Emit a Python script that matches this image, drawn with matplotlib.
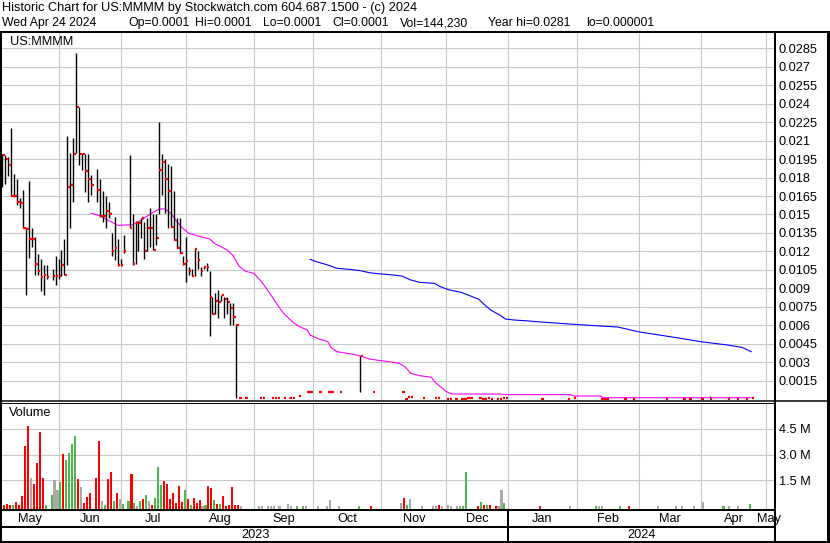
import numpy as np
import matplotlib
matplotlib.use("Agg")
import matplotlib.pyplot as plt
from matplotlib.lines import Line2D

plt.rcParams['font.family'] = ['Liberation Sans', 'DejaVu Sans']

# ---------------- data ----------------
START = '2023-05-05'

# active trading period: daily high / low / close
bar_dates = ['2023-05-05', '2023-05-08', '2023-05-09', '2023-05-10', '2023-05-11', '2023-05-12',
             '2023-05-15', '2023-05-16', '2023-05-17', '2023-05-18', '2023-05-19',
             '2023-05-22', '2023-05-23', '2023-05-24', '2023-05-25', '2023-05-26',
             '2023-05-30', '2023-05-31', '2023-06-01', '2023-06-02',
             '2023-06-05', '2023-06-06', '2023-06-07', '2023-06-08', '2023-06-09',
             '2023-06-12', '2023-06-13', '2023-06-14', '2023-06-15', '2023-06-16',
             '2023-06-20', '2023-06-21', '2023-06-22', '2023-06-23',
             '2023-06-26', '2023-06-27', '2023-06-28', '2023-06-29', '2023-06-30',
             '2023-07-03', '2023-07-05', '2023-07-06', '2023-07-07',
             '2023-07-10', '2023-07-11', '2023-07-12', '2023-07-13', '2023-07-14',
             '2023-07-17', '2023-07-18', '2023-07-19', '2023-07-20', '2023-07-21',
             '2023-07-24', '2023-07-25', '2023-07-26', '2023-07-27', '2023-07-28',
             '2023-07-31', '2023-08-01', '2023-08-02', '2023-08-03', '2023-08-04',
             '2023-08-07', '2023-08-08', '2023-08-09', '2023-08-10', '2023-08-11',
             '2023-08-14', '2023-08-15', '2023-08-16', '2023-08-17', '2023-08-18',
             '2023-08-21', '2023-08-22', '2023-08-23', '2023-08-24']
bar_high = [0.0199, 0.0198, 0.0197, 0.0220, 0.0183, 0.0179,
            0.0163, 0.0170, 0.0139, 0.0177, 0.0139,
            0.0132, 0.0118, 0.0114, 0.0109, 0.0109,
            0.0106, 0.0116, 0.0114, 0.0121,
            0.0130, 0.0214, 0.0200, 0.0212, 0.0281,
            0.0237, 0.0200, 0.0199, 0.0199, 0.0182,
            0.0187, 0.0179, 0.0169, 0.0165,
            0.0160, 0.0135, 0.0148, 0.0130, 0.0114,
            0.0133, 0.0198, 0.0150, 0.0145,
            0.0145, 0.0147, 0.0144, 0.0147, 0.0155,
            0.0150, 0.0150, 0.0225, 0.0199, 0.0195,
            0.0191, 0.0189, 0.0169, 0.0147, 0.0147,
            0.0116, 0.0132, 0.0107, 0.0106, 0.0122,
            0.0120, 0.0107, 0.0108, 0.0111, 0.0104,
            0.0083, 0.0086, 0.0089, 0.0085, 0.0083,
            0.0083, 0.0078, 0.0078, 0.0060]
bar_low = [0.0172, 0.0175, 0.0181, 0.0165, 0.0164, 0.0158,
           0.0155, 0.0139, 0.0085, 0.0115, 0.0124,
           0.0101, 0.0101, 0.0088, 0.0085, 0.0098,
           0.0097, 0.0093, 0.0098, 0.0100,
           0.0101, 0.0109, 0.0139, 0.0160, 0.0200,
           0.0190, 0.0186, 0.0168, 0.0160, 0.0166,
           0.0160, 0.0148, 0.0144, 0.0139,
           0.0147, 0.0116, 0.0113, 0.0108, 0.0108,
           0.0119, 0.0139, 0.0109, 0.0110,
           0.0120, 0.0131, 0.0114, 0.0120, 0.0124,
           0.0121, 0.0125, 0.0150, 0.0166, 0.0151,
           0.0139, 0.0140, 0.0129, 0.0123, 0.0119,
           0.0109, 0.0095, 0.0101, 0.0100, 0.0100,
           0.0106, 0.0100, 0.0106, 0.0104, 0.0051,
           0.0069, 0.0069, 0.0066, 0.0080, 0.0066,
           0.0069, 0.0060, 0.0060, 0.0001]
bar_close = [0.0198, 0.0195, 0.0190, 0.0165, 0.0165, 0.0160,
             0.0159, 0.0139, 0.0138, 0.0130, 0.0130,
             0.0110, 0.0104, 0.0099, 0.0101, 0.0099,
             0.0100, 0.0100, 0.0100, 0.0109,
             0.0101, 0.0172, 0.0174, 0.0199, 0.0237,
             0.0199, 0.0199, 0.0185, 0.0179, 0.0174,
             0.0170, 0.0149, 0.0149, 0.0153,
             0.0150, 0.0120, 0.0123, 0.0109, 0.0109,
             0.0120, 0.0139, 0.0110, 0.0143,
             0.0143, 0.0147, 0.0120, 0.0139, 0.0139,
             0.0121, 0.0131, 0.0186, 0.0193, 0.0179,
             0.0169, 0.0140, 0.0129, 0.0123, 0.0119,
             0.0110, 0.0112, 0.0104, 0.0100, 0.0122,
             0.0113, 0.0104, 0.0107, 0.0107, 0.0083,
             0.0069, 0.0080, 0.0079, 0.0085, 0.0081,
             0.0079, 0.0074, 0.0067, 0.0060]

# thin trading after the collapse
late_dates = ['2023-08-25', '2023-08-29', '2023-09-05', '2023-09-06', '2023-09-11', '2023-09-12',
              '2023-09-13', '2023-09-15', '2023-09-19', '2023-09-20', '2023-09-22', '2023-09-27',
              '2023-09-28', '2023-10-03', '2023-10-06', '2023-10-09', '2023-10-12', '2023-10-23',
              '2023-10-27', '2023-11-10', '2023-11-13', '2023-11-14', '2023-11-15', '2023-11-21',
              '2023-11-27', '2023-11-28', '2023-12-01', '2023-12-04', '2023-12-06', '2023-12-08',
              '2023-12-11', '2023-12-12', '2023-12-13', '2023-12-18', '2023-12-19', '2023-12-20',
              '2023-12-21', '2023-12-22', '2023-12-26', '2023-12-27', '2023-12-28', '2023-12-29',
              '2024-01-16', '2024-01-29', '2024-01-31', '2024-02-13', '2024-02-14', '2024-02-15',
              '2024-02-23', '2024-02-28', '2024-03-14', '2024-03-22', '2024-03-26', '2024-04-01',
              '2024-04-04', '2024-04-12', '2024-04-17', '2024-04-22', '2024-04-24']
late_close = [0.0001, 0.0001, 0.0001, 0.0001, 0.0001, 0.0001,
              0.0001, 0.0001, 0.0001, 0.0001, 0.0003, 0.0006,
              0.0006, 0.0006, 0.0006, 0.0006, 0.0006, 0.0035,
              0.0006, 0.0006, 0.00002, 0.0002, 0.0002, 0.0001,
              0.0001, 0.0001, 0.00005, 0.00005, 0.00005, 0.00005,
              0.00005, 0.0001, 0.0001, 0.0001, 0.00005, 0.00005,
              0.0001, 0.00005, 0.00005, 0.00005, 0.0001, 0.0001,
              0.00002, 0.00002, 0.0001, 0.00002, 0.00002, 0.00002,
              0.00002, 0.00002, 0.00002, 0.00002, 0.00002, 0.00002,
              0.00002, 0.00002, 0.00002, 0.00002, 0.0001]
late_high = [0.0001, 0.0001, 0.0001, 0.0001, 0.0001, 0.0001,
             0.0001, 0.0001, 0.0002, 0.0001, 0.0003, 0.0006,
             0.0006, 0.0006, 0.0006, 0.0006, 0.0006, 0.0035,
             0.0006, 0.0006, 0.00002, 0.0003, 0.0002, 0.0001,
             0.0001, 0.0001, 0.00005, 0.00005, 0.00005, 0.00005,
             0.00005, 0.0001, 0.0001, 0.0002, 0.00005, 0.00005,
             0.0001, 0.00005, 0.00005, 0.00005, 0.0001, 0.0001,
             0.00002, 0.00002, 0.0001, 0.00002, 0.00002, 0.00002,
             0.00002, 0.00002, 0.00002, 0.00002, 0.00002, 0.00002,
             0.0003, 0.00002, 0.00002, 0.00002, 0.0001]
late_low = [0.0001, 0.0001, 0.0001, 0.0001, 0.0001, 0.0001,
            0.0001, 0.0001, 0.0001, 0.0001, 0.0003, 0.0006,
            0.0006, 0.0006, 0.0006, 0.0006, 0.0006, 0.0006,
            0.0006, 0.0006, 0.00002, 0.0002, 0.0002, 0.0001,
            0.0001, 0.0001, 0.00005, 0.00005, 0.00005, 0.00005,
            0.00005, 0.0001, 0.0001, 0.0001, 0.00005, 0.00005,
            0.0001, 0.00005, 0.00005, 0.00005, 0.0001, 0.0001,
            0.00002, 0.00002, 0.0001, 0.00002, 0.00002, 0.00002,
            0.00002, 0.00002, 0.00002, 0.00002, 0.00002, 0.00002,
            0.0002, 0.00002, 0.00002, 0.00002, 0.0001]

# daily volume (millions of shares) and direction (u = up, d = down, n = unchanged)
vol_dates = bar_dates + ['2023-08-25', '2023-08-28', '2023-09-05', '2023-09-06', '2023-09-08',
                         '2023-09-11', '2023-09-12', '2023-09-14', '2023-09-19', '2023-09-20',
                         '2023-09-22', '2023-09-26', '2023-09-27', '2023-10-03', '2023-10-06',
                         '2023-10-09', '2023-10-12', '2023-10-23', '2023-10-27', '2023-11-10',
                         '2023-11-13', '2023-11-14', '2023-11-15', '2023-11-21', '2023-11-27',
                         '2023-11-28', '2023-11-29', '2023-11-30', '2023-12-04', '2023-12-05',
                         '2023-12-07', '2023-12-08', '2023-12-11', '2023-12-12', '2023-12-18',
                         '2023-12-19', '2023-12-20', '2023-12-21', '2023-12-22', '2023-12-26',
                         '2023-12-27', '2023-12-28', '2023-12-29', '2024-01-16', '2024-01-30',
                         '2024-02-12', '2024-02-13', '2024-02-14', '2024-02-22', '2024-02-27',
                         '2024-03-12', '2024-03-20', '2024-03-22', '2024-03-28', '2024-04-02',
                         '2024-04-11', '2024-04-15', '2024-04-18', '2024-04-24']
vol_millions = [0.71, 0.05, 0.13, 0.05, 0.06, 0.23,
                0.10, 0.61, 3.50, 4.65, 1.65,
                1.30, 2.50, 4.30, 1.65, 0.08,
                0.67, 1.52, 0.94, 1.42,
                3.03, 2.69, 3.09, 3.59, 4.06,
                1.60, 1.13, 0.21, 0.54, 0.75,
                1.65, 3.77, 0.30, 0.05,
                1.57, 1.98, 0.30, 0.77, 0.42,
                0.13, 0.30, 1.87, 0.19,
                0.03, 0.30, 0.42, 0.65, 0.30,
                0.05, 0.48, 2.27, 1.23, 1.46,
                1.29, 0.42, 0.77, 0.19, 1.17,
                0.25, 0.94, 0.42, 0.05, 0.48,
                0.19, 0.36, 0.03, 0.05, 1.17,
                1.06, 0.36, 0.13, 0.13, 0.60,
                0.03, 0.05, 1.10, 0.05,
                0.05, 0.02, 0.02, 0.02, 0.02,
                0.02, 0.02, 0.02, 0.13, 0.02,
                0.02, 0.02, 0.02, 0.02, 0.02,
                0.36, 0.02, 0.02, 0.02, 0.20,
                0.48, 0.05, 0.40, 0.02, 0.02,
                0.02, 0.10, 0.02, 0.05, 0.02,
                0.02, 0.02, 0.02, 2.00, 0.02,
                0.25, 0.05, 0.05, 0.05, 0.02,
                0.02, 0.94, 0.20, 0.02, 0.02,
                0.04, 0.02, 0.02, 0.02, 0.02,
                0.02, 0.02, 0.02, 0.02, 0.25,
                0.02, 0.02, 0.02, 0.144]
vol_dir = list('ndddud' 'ddddn' 'ddddu' 'unnu' 'duuuu' 'dnddd' 'ddnu' 'ddudn'
               'uudu' 'nudun' 'duuud' 'ddddd' 'dudud' 'ddnud' 'dudud' 'dddd'
               'dnnnn' 'nnnnn' 'uunnn' 'nnudn' 'dunnn' 'ndnnn' 'nnuud' 'udud'
               'dnnud' 'nunnu' 'dnnnn' 'nunnu' 'ddun')

# moving averages (short = magenta, long = blue)
ma_short_dates = ['2023-06-16', '2023-06-21', '2023-06-26', '2023-06-29', '2023-07-06', '2023-07-11',
                  '2023-07-13', '2023-07-17', '2023-07-19', '2023-07-21', '2023-07-25', '2023-07-27',
                  '2023-07-31', '2023-08-02', '2023-08-08', '2023-08-11', '2023-08-15', '2023-08-21',
                  '2023-08-23', '2023-08-25', '2023-08-29', '2023-09-01', '2023-09-05', '2023-09-06',
                  '2023-09-08', '2023-09-13', '2023-09-15', '2023-09-20', '2023-09-22', '2023-09-27',
                  '2023-09-28', '2023-10-03', '2023-10-06', '2023-10-09', '2023-10-11', '2023-10-18',
                  '2023-10-23', '2023-10-26', '2023-11-01', '2023-11-07', '2023-11-09', '2023-11-13',
                  '2023-11-15', '2023-11-20', '2023-11-24', '2023-11-27', '2023-11-29', '2023-12-01',
                  '2023-12-05', '2023-12-27', '2023-12-29', '2024-01-30', '2024-01-31', '2024-02-13',
                  '2024-02-14', '2024-04-24']
ma_short_values = [0.01510, 0.01490, 0.01450, 0.01412, 0.01417, 0.01455,
                   0.01488, 0.01518, 0.01545, 0.01545, 0.01510, 0.01441,
                   0.01388, 0.01347, 0.01320, 0.01301, 0.01260, 0.01212,
                   0.01165, 0.01080, 0.01040, 0.01022, 0.00970, 0.00940,
                   0.00873, 0.00765, 0.00698, 0.00629, 0.00594, 0.00562,
                   0.00521, 0.00489, 0.00467, 0.00421, 0.00386, 0.00367,
                   0.00351, 0.00326, 0.00313, 0.00300, 0.00292, 0.00264,
                   0.00210, 0.00191, 0.00178, 0.00142, 0.00102, 0.00061,
                   0.00042, 0.00042, 0.00037, 0.00037, 0.00026, 0.00026,
                   0.00012, 0.00012]
ma_long_dates = ['2023-09-28', '2023-10-02', '2023-10-06', '2023-10-11', '2023-10-17', '2023-10-23',
                 '2023-10-26', '2023-11-01', '2023-11-07', '2023-11-10', '2023-11-15', '2023-11-20',
                 '2023-11-27', '2023-11-29', '2023-12-04', '2023-12-08', '2023-12-13', '2023-12-18',
                 '2023-12-20', '2023-12-22', '2023-12-27', '2023-12-29', '2024-01-03', '2024-01-10',
                 '2024-01-16', '2024-02-02', '2024-02-21', '2024-03-01', '2024-03-12', '2024-03-21',
                 '2024-04-01', '2024-04-12', '2024-04-19', '2024-04-24']
ma_long_values = [0.01136, 0.01117, 0.01090, 0.01063, 0.01055, 0.01044,
                  0.01027, 0.01017, 0.01009, 0.01000, 0.00968, 0.00949,
                  0.00941, 0.00914, 0.00887, 0.00868, 0.00840, 0.00811,
                  0.00765, 0.00724, 0.00684, 0.00651, 0.00643, 0.00635,
                  0.00627, 0.00605, 0.00586, 0.00547, 0.00521, 0.00495,
                  0.00467, 0.00440, 0.00420, 0.00386]

price_ticks = [0.0015, 0.003, 0.0045, 0.006, 0.0075, 0.009, 0.0105, 0.012, 0.0135, 0.015,
               0.0165, 0.018, 0.0195, 0.021, 0.0225, 0.024, 0.0255, 0.027, 0.0285]
price_tick_labels = ['0.0015', '0.003', '0.0045', '0.006', '0.0075', '0.009', '0.0105', '0.012',
                     '0.0135', '0.015', '0.0165', '0.018', '0.0195', '0.021', '0.0225', '0.024',
                     '0.0255', '0.027', '0.0285']
vol_ticks = [1.5, 3.0, 4.5]
vol_tick_labels = ['1.5 M', '3.0 M', '4.5 M']
month_starts = ['2023-06-01', '2023-07-01', '2023-08-01', '2023-09-01', '2023-10-01', '2023-11-01',
                '2023-12-01', '2024-01-01', '2024-02-01', '2024-03-01', '2024-04-01', '2024-05-01']
month_labels = ['May', 'Jun', 'Jul', 'Aug', 'Sep', 'Oct', 'Nov', 'Dec', 'Jan', 'Feb', 'Mar', 'Apr', 'May']
year_labels = ['2023', '2024']

title_line1 = 'Historic Chart for US:MMMM by Stockwatch.com 604.687.1500 - (c) 2024'
title_date = 'Wed Apr 24 2024'
title_fields = ['Op=0.0001', 'Hi=0.0001', 'Lo=0.0001', 'Cl=0.0001', 'Vol=144,230',
                'Year hi=0.0281', 'lo=0.000001']
symbol = 'US:MMMM'

# ---------------- layout ----------------
W, H = 830, 543
FS = 9.2
FS2 = 8.8
fig = plt.figure(figsize=(W / 100, H / 100), dpi=100)
fig.patch.set_facecolor('white')


def rect(x0, y0, x1, y1):
    return [x0 / W, 1 - y1 / H, (x1 - x0) / W, (y1 - y0) / H]


def xpos(dates):
    d = np.array(dates, dtype='datetime64[D]')
    return np.busday_count(np.datetime64(START), d).astype(float)


def hline(y, x0, x1, w):
    fig.add_artist(Line2D([x0 / W, x1 / W], [1 - y / H, 1 - y / H], transform=fig.transFigure,
                          color='black', lw=w * 0.72, solid_capstyle='butt'))


def vline(x, y0, y1, w):
    fig.add_artist(Line2D([x / W, x / W], [1 - y0 / H, 1 - y1 / H], transform=fig.transFigure,
                          color='black', lw=w * 0.72, solid_capstyle='butt'))


XL = (-0.1, 260.7)
GRID = '#C8C8C8'
grid_x = xpos(np.busday_offset(np.array(month_starts, dtype='datetime64[D]'), 0, roll='backward'))

# price panel
ax_p = fig.add_axes(rect(2, 33, 774, 400))
ax_p.set_xlim(*XL)
ax_p.set_ylim(-0.000065, 0.02974)
ax_p.set_xticks(grid_x)
ax_p.set_yticks(price_ticks)
ax_p.set_yticklabels(price_tick_labels)
ax_p.yaxis.tick_right()
ax_p.tick_params(axis='y', length=0, pad=3.4, labelsize=FS)
ax_p.tick_params(axis='x', length=0, labelbottom=False)
ax_p.grid(True, color=GRID, lw=0.8)
ax_p.set_axisbelow(True)
for s in ax_p.spines.values():
    s.set_visible(False)

ax_p.plot(xpos(ma_short_dates), ma_short_values, color='#FF00FF', lw=0.8, zorder=2)
ax_p.plot(xpos(ma_long_dates), ma_long_values, color='#0000FF', lw=0.8, zorder=2)

all_dates = bar_dates + late_dates
all_high = np.array(bar_high + late_high)
all_low = np.array(bar_low + late_low)
all_close = np.array(bar_close + late_close)
xb = xpos(all_dates)
ax_p.vlines(xb, all_low, all_high, color='black', lw=1.0, zorder=3)
ax_p.hlines(all_close, xb + 0.1, xb + 0.9, color='#FF0000', lw=1.6, zorder=4,
            capstyle='butt')
ax_p.text(8 / 772, 1 - (41.7 - 33) / 367, symbol, transform=ax_p.transAxes, fontsize=FS,
          ha='left', va='center')

# volume panel
VB = -0.156
ax_v = fig.add_axes(rect(2, 402.5, 774, 509))
ax_v.set_xlim(*XL)
ax_v.set_ylim(VB, 6.017)
ax_v.set_xticks(grid_x)
ax_v.set_yticks(vol_ticks)
ax_v.set_yticklabels(vol_tick_labels)
ax_v.yaxis.tick_right()
ax_v.tick_params(axis='y', length=0, pad=3.4, labelsize=FS)
ax_v.tick_params(axis='x', length=0, labelbottom=False)
ax_v.grid(True, color=GRID, lw=0.8)
ax_v.set_axisbelow(True)
for s in ax_v.spines.values():
    s.set_visible(False)
cmap = {'u': '#4DB84D', 'd': '#FF0000', 'n': '#A8A8A8'}
xv = xpos(vol_dates)
ax_v.bar(xv - 0.36, np.array(vol_millions) - VB, bottom=VB, width=0.7,
         color=[cmap[c] for c in vol_dir], linewidth=0, zorder=2)
ax_v.text(7 / 772, 1 - (412.7 - 402.5) / 106.5, 'Volume', transform=ax_v.transAxes,
          fontsize=FS, ha='left', va='center')

# month row
ax_m = fig.add_axes(rect(2, 510, 774, 527))
ax_m.set_xlim(*XL)
ax_m.axis('off')
bounds = np.concatenate([[XL[0]], grid_x, [grid_x[-1] + 2.0]])
for i, lab in enumerate(month_labels):
    xm = 0.5 * (bounds[i] + bounds[i + 1])
    ax_m.text(xm, 0.47, lab, ha='center', va='center', fontsize=FS, clip_on=False)

# year row
ax_y = fig.add_axes(rect(2, 527, 774, 542))
ax_y.set_xlim(*XL)
ax_y.axis('off')
x_jan = grid_x[7]
ax_y.text(0.5 * (XL[0] + x_jan), 0.5, year_labels[0], ha='center', va='center', fontsize=FS)
ax_y.text(0.5 * (x_jan + XL[1]), 0.5, year_labels[1], ha='center', va='center', fontsize=FS)

# header text
fig.text(2 / W, 1 - 8.5 / H, title_line1, fontsize=FS, ha='left', va='center')
fig.text(2 / W, 1 - 23 / H, title_date, fontsize=FS2, ha='left', va='center')
for xf, t in zip([128, 195, 263, 332, 400, 488, 586], title_fields):
    fig.text(xf / W, 1 - 23 / H, t, fontsize=FS2, ha='left', va='center')

# frame lines
x_jan_px = 2 + (x_jan - XL[0]) / (XL[1] - XL[0]) * 772
hline(31.5, 0, W, 2)
vline(1, 31, 542.5, 2)
vline(827.5, 31, 542.5, 3)
vline(774.5, 31, 542.5, 2)
hline(400.5, 0, W, 1.5)
hline(402.8, 0, 774, 1)
hline(509.8, 0, 774, 2)
hline(527, 0, 774, 2)
hline(541.8, 0, W, 2)
vline(x_jan_px, 510, 542, 2)

fig.savefig('out.png', dpi=100, facecolor='white')
